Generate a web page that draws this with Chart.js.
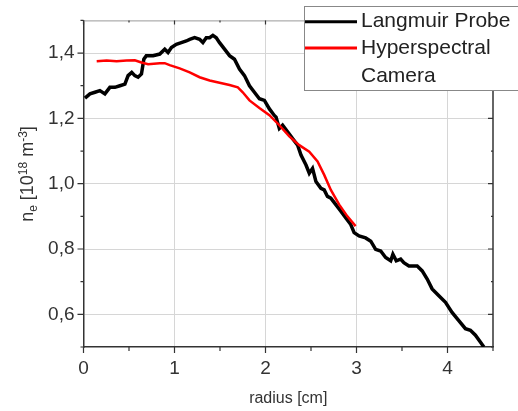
<!DOCTYPE html>
<html>
<head>
<meta charset="utf-8">
<script src="https://cdn.jsdelivr.net/npm/chart.js@4"></script>
<style>
  html, body { margin: 0; padding: 0; background: #fff; }
  #wrap { width: 518px; height: 411px; position: relative; }
</style>
</head>
<body>
<div id="wrap"><canvas id="profile"></canvas></div>
<script>
// radius [cm] and density [10^18 m^-3] of the probe scan
const probeRadius = [
  0.016, 0.071, 0.126, 0.18, 0.235, 0.29, 0.345, 0.40, 0.455, 0.49,
  0.53, 0.564, 0.60, 0.637, 0.663, 0.69, 0.765, 0.838, 0.893, 0.929,
  0.966, 1.02, 1.075, 1.13, 1.167, 1.221, 1.276, 1.312, 1.349, 1.386,
  1.422, 1.459, 1.495, 1.55, 1.605, 1.659, 1.714, 1.769, 1.824, 1.878,
  1.933, 1.988, 2.043, 2.097, 2.116, 2.152, 2.188, 2.243, 2.298, 2.353,
  2.39, 2.445, 2.481, 2.517, 2.554, 2.609, 2.645, 2.681, 2.718, 2.773,
  2.828, 2.883, 2.937, 2.974, 3.028, 3.10, 3.157, 3.21, 3.266, 3.32,
  3.376, 3.40, 3.437, 3.485, 3.52, 3.576, 3.631, 3.667, 3.722, 3.777,
  3.831, 3.905, 3.978, 4.05, 4.124, 4.197, 4.252, 4.307, 4.361, 4.40
];
const probeDensity = [
  1.262, 1.275, 1.28, 1.285, 1.275, 1.295, 1.295, 1.30, 1.305, 1.331,
  1.341, 1.331, 1.326, 1.336, 1.381, 1.392, 1.392, 1.397, 1.412, 1.402,
  1.417, 1.427, 1.432, 1.437, 1.442, 1.447, 1.442, 1.432, 1.447, 1.447,
  1.454, 1.447, 1.432, 1.412, 1.392, 1.381, 1.351, 1.331, 1.30, 1.28,
  1.26, 1.255, 1.229, 1.209, 1.204, 1.169, 1.179, 1.159, 1.138, 1.118,
  1.088, 1.057, 1.032, 1.047, 1.007, 0.986, 0.981, 0.961, 0.956, 0.936,
  0.916, 0.895, 0.875, 0.85, 0.84, 0.834, 0.824, 0.799, 0.794, 0.774,
  0.764, 0.784, 0.764, 0.769, 0.758, 0.748, 0.748, 0.748, 0.733, 0.708,
  0.678, 0.657, 0.637, 0.606, 0.581, 0.556, 0.551, 0.536, 0.515, 0.50
];

// hyperspectral camera profile
const cameraRadius = [
  0.145, 0.254, 0.364, 0.473, 0.564, 0.637, 0.71, 0.838, 0.893, 0.947,
  1.057, 1.167, 1.276, 1.386, 1.495, 1.605, 1.696, 1.75, 1.824, 1.933,
  2.043, 2.152, 2.262, 2.371, 2.481, 2.572, 2.645, 2.718, 2.81, 2.90, 2.99
];
const cameraDensity = [
  1.375, 1.377, 1.375, 1.377, 1.378, 1.371, 1.366, 1.369, 1.369, 1.363,
  1.353, 1.341, 1.326, 1.316, 1.309, 1.302, 1.295, 1.28, 1.255, 1.232,
  1.21, 1.179, 1.145, 1.118, 1.098, 1.068, 1.027, 0.981, 0.936, 0.90, 0.87
];

const seriesNames = ['Langmuir Probe', ['Hyperspectral', 'Camera']];
const xMajorTicks = [0, 1, 2, 3, 4];
const yMajorTicks = [0.6, 0.8, 1.0, 1.2, 1.4];

const FONT = '"Liberation Sans", Arial, sans-serif';
const AXIS = '#333';
const GRID = '#d6d6d6';

const toPoints = (xs, ys) => xs.map((x, i) => ({ x, y: ys[i] }));
const isMajor = (list, v) => list.some(t => Math.abs(t - v) < 1e-6);

// ticks, frame, legend and axis titles
const decorations = {
  id: 'decorations',
  afterDraw(chart) {
    const { ctx, chartArea: a, scales: { x, y } } = chart;
    ctx.save();

    // top and right frame
    ctx.strokeStyle = '#999';
    ctx.lineWidth = 1;
    ctx.beginPath();
    ctx.moveTo(a.left, a.top + 0.5);
    ctx.lineTo(a.right, a.top + 0.5);
    ctx.stroke();
    ctx.strokeStyle = AXIS;
    ctx.lineWidth = 1.5;
    ctx.beginPath();
    ctx.moveTo(a.right, a.top);
    ctx.lineTo(a.right, a.bottom);
    ctx.stroke();

    // tick marks: out on bottom/left, in on top/right
    ctx.lineWidth = 1.2;
    ctx.beginPath();
    x.ticks.forEach(t => {
      const px = x.getPixelForValue(t.value);
      const len = isMajor(xMajorTicks, t.value) ? 6 : 4;
      ctx.moveTo(px, a.bottom);
      ctx.lineTo(px, a.bottom + len);
      ctx.moveTo(px, a.top);
      ctx.lineTo(px, a.top + len - 2);
    });
    y.ticks.forEach(t => {
      const py = y.getPixelForValue(t.value);
      const len = isMajor(yMajorTicks, t.value) ? 6 : 3;
      ctx.moveTo(a.left, py);
      ctx.lineTo(a.left - len, py);
      ctx.moveTo(a.right, py);
      ctx.lineTo(a.right - len + 1, py);
    });
    ctx.stroke();

    // x title
    ctx.fillStyle = AXIS;
    ctx.font = '16px ' + FONT;
    ctx.textAlign = 'center';
    ctx.textBaseline = 'middle';
    ctx.fillText('radius [cm]', (a.left + a.right) / 2, 399);

    // y title with sub/superscripts
    const parts = [
      { t: 'n', s: 18, dy: 0 },
      { t: 'e', s: 12, dy: 4 },
      { t: ' [10', s: 18, dy: 0 },
      { t: '18', s: 12, dy: -6 },
      { t: ' m', s: 18, dy: 0 },
      { t: '-3', s: 12, dy: -6 },
      { t: ']', s: 18, dy: 0 }
    ];
    ctx.textAlign = 'left';
    ctx.textBaseline = 'alphabetic';
    let total = 0;
    parts.forEach(p => {
      ctx.font = p.s + 'px ' + FONT;
      p.w = ctx.measureText(p.t).width;
      total += p.w;
    });
    ctx.translate(33, 174);
    ctx.rotate(-Math.PI / 2);
    let cx = -total / 2;
    parts.forEach(p => {
      ctx.font = p.s + 'px ' + FONT;
      ctx.fillText(p.t, cx, p.dy);
      cx += p.w;
    });
    ctx.setTransform(1, 0, 0, 1, 0, 0);

    // legend box
    const box = { x: 304.5, y: 6.5, w: 214, h: 84 };
    ctx.fillStyle = '#fff';
    ctx.fillRect(box.x, box.y, box.w, box.h);
    ctx.strokeStyle = '#888';
    ctx.lineWidth = 1;
    ctx.strokeRect(box.x, box.y, box.w, box.h);

    ctx.font = '21px ' + FONT;
    ctx.fillStyle = '#222';
    ctx.textBaseline = 'middle';
    const rows = [21.7, 48, 76];
    let row = 0;
    chart.data.datasets.forEach((ds, i) => {
      ctx.strokeStyle = ds.borderColor;
      ctx.lineWidth = 3;
      ctx.beginPath();
      ctx.moveTo(305, rows[row]);
      ctx.lineTo(357, rows[row]);
      ctx.stroke();
      const lines = Array.isArray(seriesNames[i]) ? seriesNames[i] : [seriesNames[i]];
      lines.forEach(line => {
        ctx.fillText(line, 361, rows[row]);
        row++;
      });
    });

    ctx.restore();
  }
};

new Chart(document.getElementById('profile'), {
  type: 'line',
  data: {
    datasets: [
      {
        label: 'Langmuir Probe',
        data: toPoints(probeRadius, probeDensity),
        borderColor: '#000',
        borderWidth: 3.5,
        pointRadius: 0,
        tension: 0,
        order: 1
      },
      {
        label: 'Hyperspectral Camera',
        data: toPoints(cameraRadius, cameraDensity),
        borderColor: '#ff0000',
        borderWidth: 2.5,
        pointRadius: 0,
        tension: 0,
        order: 0
      }
    ]
  },
  options: {
    responsive: true,
    maintainAspectRatio: false,
    animation: false,
    layout: { padding: { left: 0, right: 25, top: 18, bottom: 0 } },
    plugins: {
      legend: { display: false },
      tooltip: { enabled: false }
    },
    scales: {
      x: {
        type: 'linear',
        min: 0,
        max: 4.5,
        afterFit: s => { s.height = 64; },
        ticks: {
          stepSize: 0.5,
          autoSkip: false,
          maxRotation: 0,
          padding: 10,
          color: AXIS,
          font: { size: 19, family: FONT },
          callback: v => isMajor(xMajorTicks, v) ? String(Math.round(v)) : ''
        },
        grid: {
          drawTicks: false,
          color: c => isMajor(xMajorTicks, c.tick.value) ? GRID : 'rgba(0,0,0,0)'
        },
        border: { display: true, color: AXIS, width: 1.5 }
      },
      y: {
        min: 0.5,
        max: 1.5,
        afterFit: s => { s.width = 83.5; },
        ticks: {
          stepSize: 0.1,
          autoSkip: false,
          padding: 9,
          color: AXIS,
          font: { size: 19, family: FONT },
          callback: v => isMajor(yMajorTicks, v) ? v.toFixed(1).replace('.', ',') : ''
        },
        grid: {
          drawTicks: false,
          color: c => isMajor(yMajorTicks, c.tick.value) ? GRID : 'rgba(0,0,0,0)'
        },
        border: { display: true, color: AXIS, width: 1.5 }
      }
    }
  },
  plugins: [decorations]
});
</script>
</body>
</html>
